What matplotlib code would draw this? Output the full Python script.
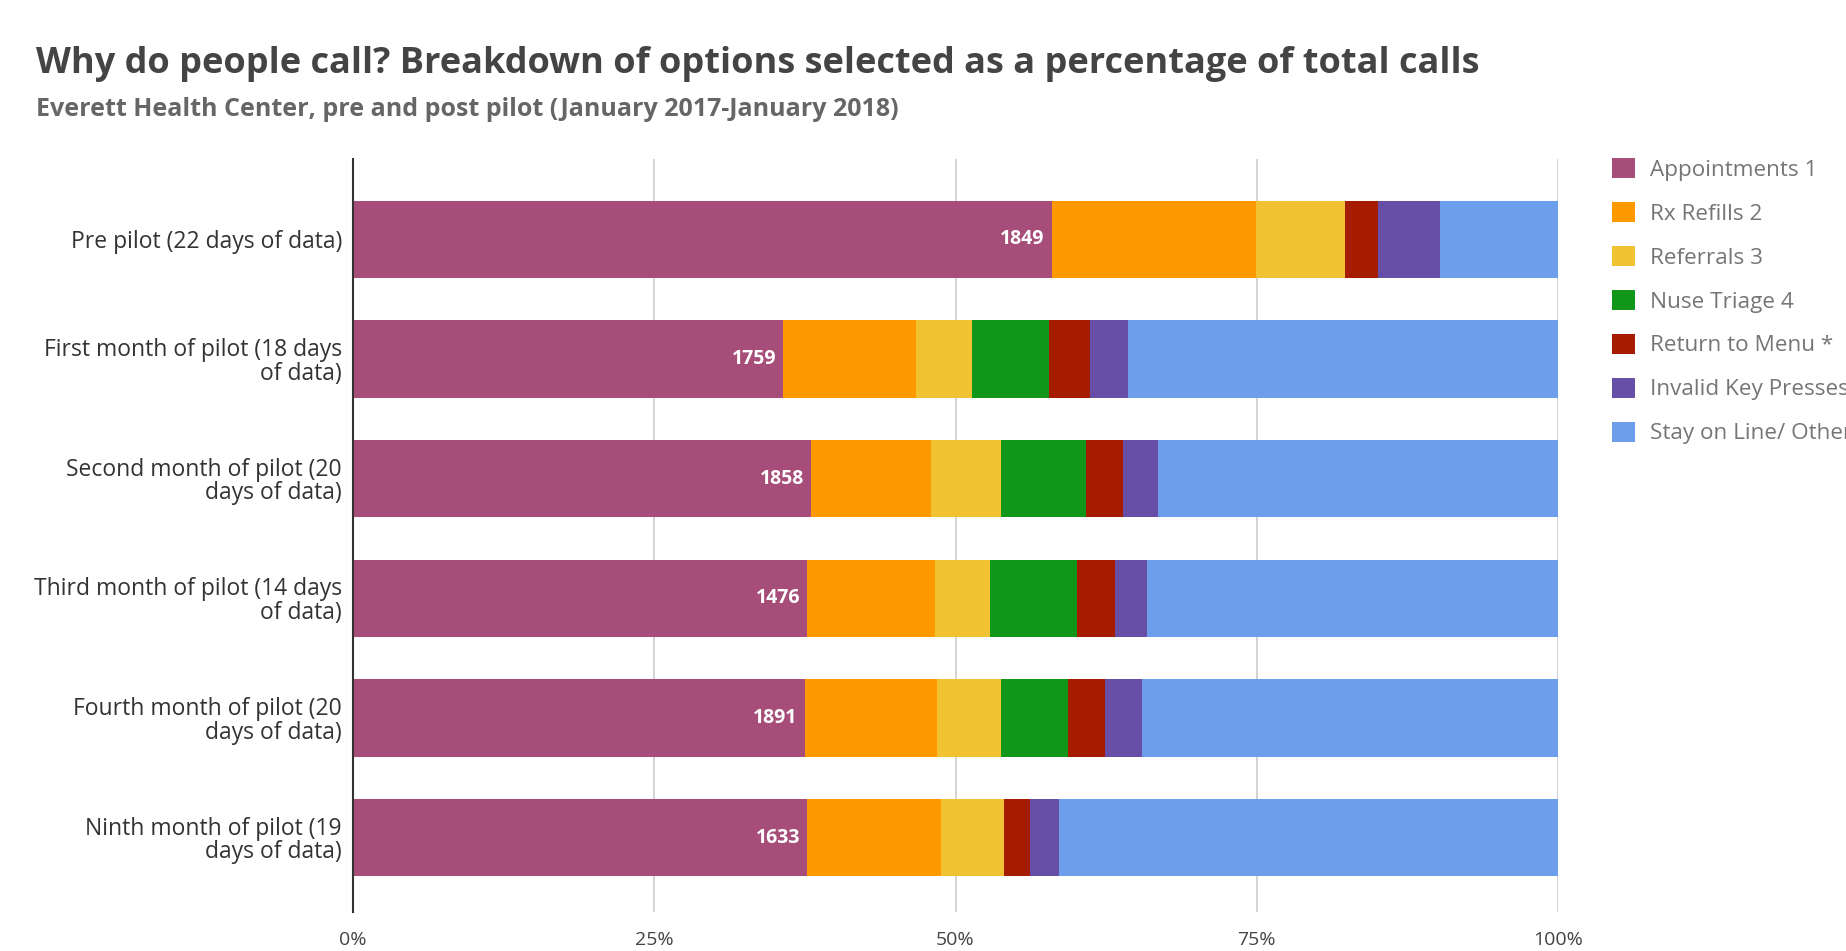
import matplotlib
matplotlib.use("Agg")
import matplotlib.pyplot as plt
import numpy as np

categories = [
    "Pre pilot (22 days of data)",
    "First month of pilot (18 days\nof data)",
    "Second month of pilot (20\ndays of data)",
    "Third month of pilot (14 days\nof data)",
    "Fourth month of pilot (20\ndays of data)",
    "Ninth month of pilot (19\ndays of data)",
]
series_names = ["Appointments 1", "Rx Refills 2", "Referrals 3", "Nuse Triage 4",
                "Return to Menu *", "Invalid Key Presses", "Stay on Line/ Other"]
appointments = [58.0, 35.7, 38.0, 37.7, 37.5, 37.7]
rx_refills   = [16.9, 11.0, 10.0, 10.6, 11.0, 11.1]
referrals    = [7.4, 4.7, 5.8, 4.6, 5.3, 5.2]
nurse_triage = [0.0, 6.4, 7.0, 7.2, 5.5, 0.0]
return_menu  = [2.8, 3.4, 3.1, 3.1, 3.1, 2.2]
invalid_keys = [5.1, 3.1, 2.9, 2.7, 3.1, 2.4]
stay_on_line = [9.8, 35.7, 33.2, 34.1, 34.5, 41.4]
appt_counts = [1849, 1759, 1858, 1476, 1891, 1633]

colors = ["#a64d79", "#ff9900", "#f1c232", "#109618", "#a61c00", "#674ea7", "#6d9eeb"]

plt.rcParams['font.family'] = ['Open Sans', 'DejaVu Sans']

fig = plt.figure(figsize=(18.46, 9.51), dpi=100)
ax = fig.add_axes([353/1846, 1 - 912/951, 1205/1846, 753/951])

series = [appointments, rx_refills, referrals, nurse_triage, return_menu, invalid_keys, stay_on_line]
y = np.arange(len(categories))
left = np.zeros(len(categories))
handles = []
for name, vals, c in zip(series_names, series, colors):
    vals = np.array(vals, dtype=float)
    b = ax.barh(y, vals, left=left, height=0.645, color=c, label=name, zorder=3)
    handles.append(b)
    left += vals

for i, (v, n) in enumerate(zip(appointments, appt_counts)):
    ax.text(v - 0.6, i, str(n), ha='right', va='center', color='white',
            fontsize=14, fontweight='bold', zorder=4)

ax.set_xlim(0, 100)
ax.set_ylim(5.62, -0.67)
ax.set_yticks(y)
ax.set_yticklabels(categories, fontsize=16.5, color='#333333', linespacing=0.98)
ax.set_xticks([0, 25, 50, 75, 100])
ax.set_xticklabels(["0%", "25%", "50%", "75%", "100%"], fontsize=14, color='#444444')
ax.tick_params(axis='y', length=0, pad=8)
ax.tick_params(axis='x', length=0, pad=14)
ax.grid(axis='x', color='#cccccc', linewidth=1.2, zorder=0)
for s in ['top', 'right', 'bottom']:
    ax.spines[s].set_visible(False)
ax.spines['left'].set_color('#333333')
ax.spines['left'].set_linewidth(1.5)
ax.spines['left'].set_zorder(5)

leg = fig.legend(handles=handles, loc='upper left',
                 bbox_to_anchor=(1603/1846, 1 - 149/951),
                 frameon=False, fontsize=16.2, labelcolor='#757575',
                 handlelength=1.0, handleheight=1.0, handletextpad=0.7,
                 labelspacing=0.94, borderaxespad=0)

fig.text(36/1846, 1 - 64/951, "Why do people call? Breakdown of options selected as a percentage of total calls",
         fontsize=26, fontweight='bold', color='#444444', va='center', ha='left')
fig.text(36/1846, 1 - 110/951, "Everett Health Center, pre and post pilot (January 2017-January 2018)",
         fontsize=18, fontweight='bold', color='#666666', va='center', ha='left')

fig.savefig("out.png", dpi=100)
